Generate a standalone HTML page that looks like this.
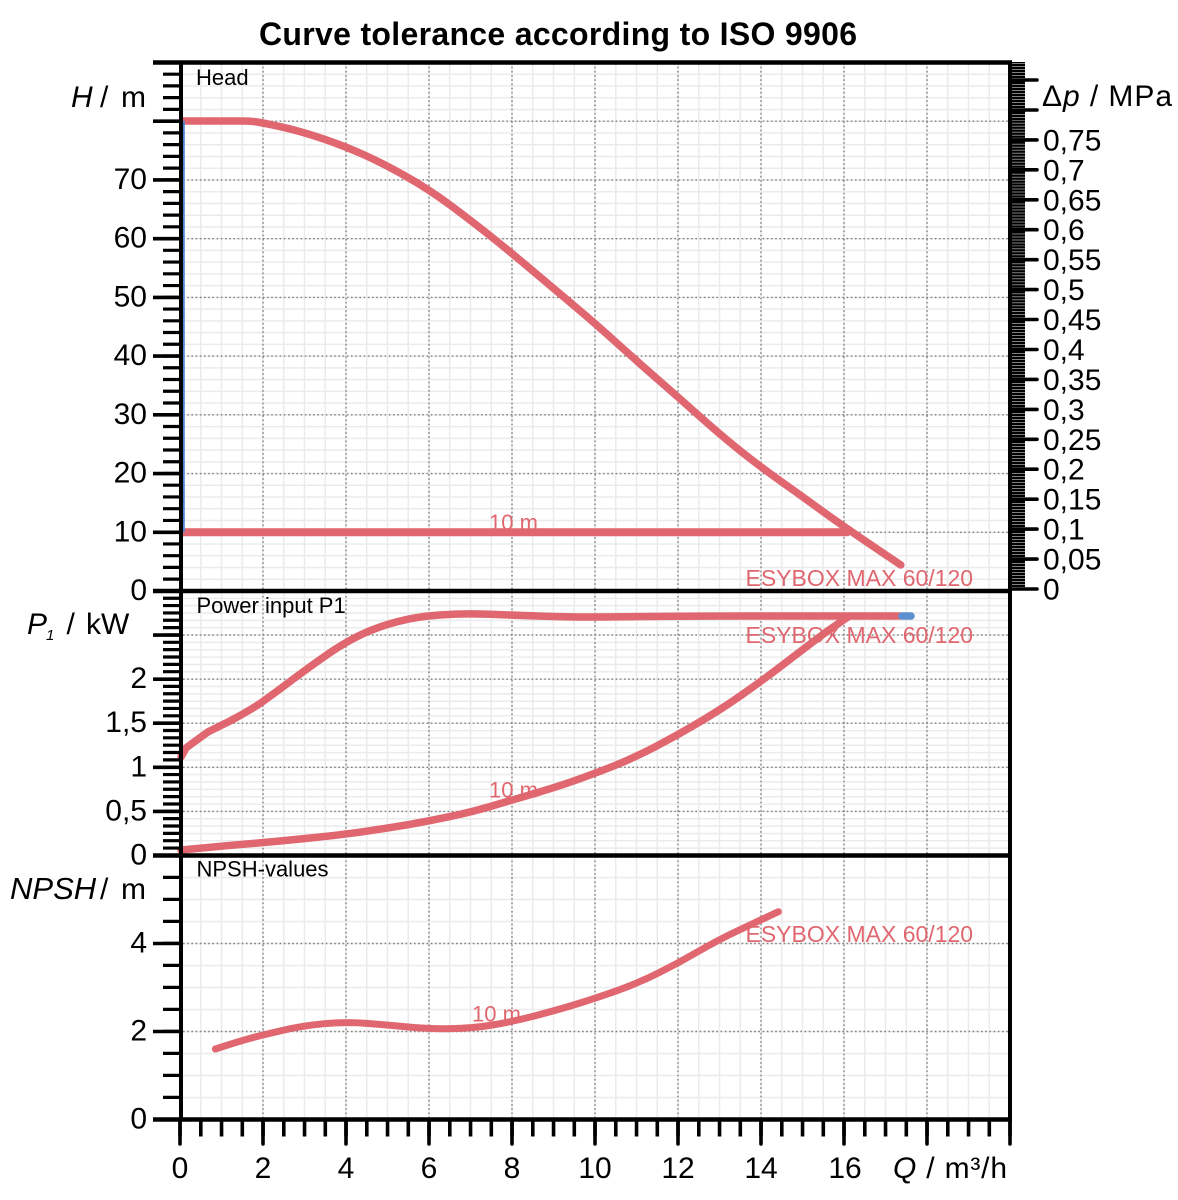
<!DOCTYPE html>
<html><head><meta charset="utf-8"><style>
html,body{margin:0;padding:0;background:#fff}
svg{display:block}
text{font-family:"Liberation Sans",Arial,sans-serif}
</style></head><body>
<svg width="1178" height="1200" viewBox="0 0 1178 1200" xmlns="http://www.w3.org/2000/svg">
<rect x="0" y="0" width="1178" height="1200" fill="#fff"/>

<!-- minor grid -->
<g stroke="#ebebeb" fill="none">
  <line x1="179.25" y1="591" x2="1011" y2="591" stroke-width="1057" stroke-dasharray="1.5 19.25"/>
  <line x1="595" y1="591.75" x2="595" y2="62.5" stroke-width="830" stroke-dasharray="1.5 10.244"/>
  <line x1="595" y1="856.25" x2="595" y2="591" stroke-width="830" stroke-dasharray="1.5 5.848"/>
  <line x1="595" y1="1120.25" x2="595" y2="855.5" stroke-width="830" stroke-dasharray="1.5 20.5"/>
</g>

<!-- major dotted grid -->
<g stroke="#808080" stroke-width="1.4" stroke-dasharray="1.6 2.6" fill="none">
  <path d="M263 62.5V1119.5M346 62.5V1119.5M429 62.5V1119.5M512 62.5V1119.5M595 62.5V1119.5M678 62.5V1119.5M761 62.5V1119.5M844 62.5V1119.5M927 62.5V1119.5"/>
  <path d="M183 532.3H1010M183 473.6H1010M183 414.8H1010M183 356.1H1010M183 297.4H1010M183 238.7H1010M183 179.9H1010M183 121.2H1010"/>
  <path d="M183 811.4H1010M183 767.3H1010M183 723.2H1010M183 679.2H1010M183 635.1H1010"/>
  <path d="M183 1031.5H1010M183 943.5H1010"/>
</g>

<!-- curves -->
<g fill="none" stroke="#e0676f" stroke-linecap="round" stroke-linejoin="round">
  <path stroke-width="7.5" d="M183 121 L240 121 Q250 121 256.25 121.85 Q262.5 122.7 282.55 127.2 Q302.6 131.7 324.3 139.2 Q346 146.7 364.4 155 Q382.8 163.3 405.9 176.3 Q429 189.3 450.75 205.5 Q472.5 221.7 492.25 237.5 Q512 253.3 534.7 272.5 Q557.4 291.7 576.2 307.5 Q595 323.3 616.25 342.5 Q637.5 361.7 657.55 379.2 Q677.6 396.7 700.05 416.7 Q722.5 436.7 741.35 451.7 Q760.2 466.7 781.4 481.7 Q802.6 496.7 823.15 511.7 Q843.7 526.7 900.8 565"/>
  <path stroke-width="8" d="M183 532.3 L847 532.3"/>
  <path stroke-width="7.5" d="M181 757 L186 748 L192 743.5 L208.3 731.7 L230 721 Q250.8 710 262.6 701.65 Q274.4 693.3 293.2 679.15 Q312 665 329 653.35 Q346 641.7 362.1 634.2 Q378.2 626.7 397.1 621.7 Q416 616.7 439.5 615 Q463 613.3 486.65 614.15 Q510.3 615 541 616.15 Q571.7 617.3 600 617 Q628.3 616.7 663.65 616.35 Q699 616 746 616 L900 616"/>
  <path stroke-width="7.5" d="M181 850 L227 845.7 Q274.4 841.7 310.2 838 Q346 834.3 369.2 830.8 Q392.4 827.3 410.8 824.15 Q429.2 821 450.9 816.35 Q472.6 811.7 492.4 805.85 Q512.2 800 534.85 793.35 Q557.5 786.7 576.4 780 Q595.3 773.3 614.15 765.8 Q633 758.3 655.45 746.65 Q677.9 735 700.3 721.65 Q722.7 708.3 741.6 695 Q760.5 681.7 777 669.2 Q793.5 656.7 807.65 645.85 Q821.8 635 834.8 626 L847.8 617"/>
  <path stroke-width="7" d="M215.4 1049 Q240 1041 251.3 1038 Q262.6 1035 282.65 1030.35 Q302.7 1025.7 324.4 1023.7 Q346.1 1021.7 366.85 1023.35 Q387.6 1025 408.4 1027 Q429.2 1029 450.9 1028.65 Q472.6 1028.3 492.4 1025 Q512.2 1021.7 534.85 1015.85 Q557.5 1010 576.4 1004.15 Q595.3 998.3 616.55 990.8 Q637.8 983.3 657.85 973.3 Q677.9 963.3 697.95 951.65 Q718 940 739.25 930 L778.4 911.7"/>
</g>
<line x1="902" y1="616" x2="911" y2="616" stroke="#5b8fd0" stroke-width="7.5" stroke-linecap="round"/>
<line x1="183.8" y1="121" x2="183.8" y2="532" stroke="#4f86d0" stroke-width="2"/>

<!-- curve labels -->
<g fill="#e0676f">
  <text x="489" y="530" font-size="22">10 m</text>
  <text x="745.5" y="586" font-size="23">ESYBOX MAX 60/120</text>
  <text x="745.5" y="643" font-size="23">ESYBOX MAX 60/120</text>
  <text x="489" y="797.5" font-size="22">10 m</text>
  <text x="472" y="1021.5" font-size="22">10 m</text>
  <text x="745.5" y="942" font-size="23">ESYBOX MAX 60/120</text>
</g>

<!-- panel titles -->
<g fill="#000" font-size="22">
  <text x="196" y="85">Head</text>
  <text x="196.5" y="613">Power input P1</text>
  <text x="196.5" y="876.5">NPSH-values</text>
</g>

<!-- frame lines -->
<g stroke="#000" fill="none">
  <path stroke-width="4.5" d="M153 62.5H1012M153 591H1012M153 855.5H1012M153 1119.5H1012"/>
  <path stroke-width="4" d="M181 62.5V1121.5M1010 60.5V1121.5"/>
</g>

<!-- ticks -->
<g stroke="#000" fill="none">
  <line x1="172" y1="592.5" x2="172" y2="62" stroke-width="18" stroke-dasharray="3.2 8.544"/>
  <line x1="172" y1="857" x2="172" y2="591" stroke-width="18" stroke-dasharray="3.2 4.148"/>
  <line x1="172" y1="1121" x2="172" y2="855.5" stroke-width="18" stroke-dasharray="3.2 18.8"/>
  <path stroke-width="3.6" d="M153 591H181M153 532.3H181M153 473.6H181M153 414.8H181M153 356.1H181M153 297.4H181M153 238.7H181M153 179.9H181M153 121.2H181M153 62.5H181M153 855.5H181M153 811.4H181M153 767.3H181M153 723.2H181M153 679.2H181M153 635.1H181M153 1119.5H181M153 1031.5H181M153 943.5H181"/>
  <line x1="178.25" y1="1128" x2="1012" y2="1128" stroke-width="17" stroke-dasharray="3.6 17.15"/>
  <path stroke-width="3.6" stroke-linecap="round" d="M180 1119.5V1144M263 1119.5V1144M346 1119.5V1144M429 1119.5V1144M512 1119.5V1144M595 1119.5V1144M678 1119.5V1144M761 1119.5V1144M844 1119.5V1144M927 1119.5V1144M1010 1119.5V1144"/>
  <line x1="1017.5" y1="590" x2="1017.5" y2="62" stroke-width="15" stroke-dasharray="2.5 0.494"/>
  <path stroke-width="3.6" stroke-linecap="round" d="M1010 589H1037M1010 559.1H1037M1010 529.1H1037M1010 499.2H1037M1010 469.2H1037M1010 439.3H1037M1010 409.4H1037M1010 379.4H1037M1010 349.5H1037M1010 319.5H1037M1010 289.6H1037M1010 259.7H1037M1010 229.7H1037M1010 199.8H1037M1010 169.8H1037M1010 139.9H1037M1010 110H1037M1010 80H1037"/>
</g>

<!-- title -->
<text x="259" y="45" font-size="32" font-weight="bold" textLength="598" fill="#000">Curve tolerance according to ISO 9906</text>

<!-- left tick labels -->
<g font-size="30" fill="#000" text-anchor="end">
  <text x="147" y="600">0</text>
  <text x="147" y="541.3">10</text>
  <text x="147" y="482.6">20</text>
  <text x="147" y="423.8">30</text>
  <text x="147" y="365.1">40</text>
  <text x="147" y="306.4">50</text>
  <text x="147" y="247.7">60</text>
  <text x="147" y="188.9">70</text>
  <text x="147" y="864.5">0</text>
  <text x="147" y="820.4">0,5</text>
  <text x="147" y="776.3">1</text>
  <text x="147" y="732.2">1,5</text>
  <text x="147" y="688.2">2</text>
  <text x="147" y="1128.5">0</text>
  <text x="147" y="1040.5">2</text>
  <text x="147" y="952.5">4</text>
</g>

<!-- right tick labels -->
<g font-size="30" fill="#000">
  <text x="1043" y="599.5">0</text>
  <text x="1043" y="569.6">0,05</text>
  <text x="1043" y="539.6">0,1</text>
  <text x="1043" y="509.7">0,15</text>
  <text x="1043" y="479.7">0,2</text>
  <text x="1043" y="449.8">0,25</text>
  <text x="1043" y="419.9">0,3</text>
  <text x="1043" y="389.9">0,35</text>
  <text x="1043" y="360">0,4</text>
  <text x="1043" y="330">0,45</text>
  <text x="1043" y="300.1">0,5</text>
  <text x="1043" y="270.2">0,55</text>
  <text x="1043" y="240.2">0,6</text>
  <text x="1043" y="210.3">0,65</text>
  <text x="1043" y="180.3">0,7</text>
  <text x="1043" y="150.4">0,75</text>
</g>

<!-- bottom tick labels -->
<g font-size="30" fill="#000" text-anchor="middle">
  <text x="180" y="1178">0</text>
  <text x="263" y="1178">2</text>
  <text x="346" y="1178">4</text>
  <text x="429" y="1178">6</text>
  <text x="512" y="1178">8</text>
  <text x="595" y="1178">10</text>
  <text x="678" y="1178">12</text>
  <text x="761" y="1178">14</text>
  <text x="845" y="1178">16</text>
</g>

<!-- axis titles -->
<g font-size="30" fill="#000">
  <text x="71" y="107" font-style="italic">H</text>
  <text x="100" y="107">/</text>
  <text x="121" y="107">m</text>

  <text x="27" y="634" font-style="italic">P</text>
  <text x="46" y="640" font-size="15" font-style="italic">1</text>
  <text x="66.5" y="634">/</text>
  <text x="86" y="634">kW</text>

  <text x="10" y="899" font-style="italic" font-size="31">NPSH</text>
  <text x="100" y="899">/</text>
  <text x="121" y="899">m</text>

  <text x="1042" y="106" textLength="130">Δ<tspan font-style="italic">p</tspan> / MPa</text>

  <text x="893" y="1178" textLength="114"><tspan font-style="italic">Q</tspan> / m³/h</text>
</g>
</svg>
</body></html>
